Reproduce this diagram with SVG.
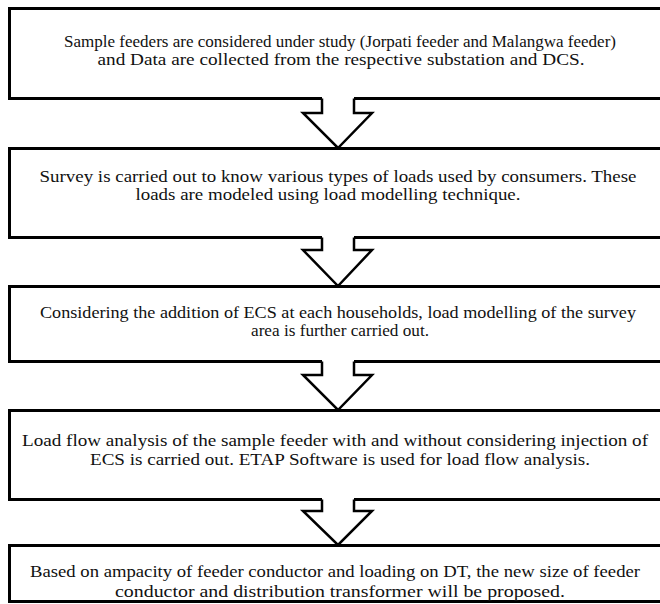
<svg xmlns="http://www.w3.org/2000/svg" width="660" height="604" viewBox="0 0 660 604">
<style>
.box{fill:#fff;stroke:#000;stroke-width:3}
.arr{fill:#fff;stroke:none}
.arrl{fill:none;stroke:#000;stroke-width:2.5;stroke-linejoin:miter}
text{font-family:"Liberation Serif","Times New Roman",serif;font-size:17px;fill:#111;text-anchor:middle}
</style>
<rect width="660" height="604" fill="#fff"/>
<g id="node1"><rect class="box" x="9.5" y="8.5" width="653" height="90"/>
<text x="340" y="47" textLength="552" lengthAdjust="spacingAndGlyphs">Sample feeders are considered under study (Jorpati feeder and Malangwa feeder)</text>
<text x="341" y="65" textLength="487" lengthAdjust="spacingAndGlyphs">and Data are collected from the respective substation and DCS.</text></g>
<g id="node2"><rect class="box" x="9.5" y="148.5" width="653" height="89"/>
<text x="338" y="182" textLength="597" lengthAdjust="spacingAndGlyphs">Survey is carried out to know various types of loads used by consumers. These</text>
<text x="328" y="200" textLength="385" lengthAdjust="spacingAndGlyphs">loads are modeled using load modelling technique.</text></g>
<g id="node3"><rect class="box" x="9.5" y="286.5" width="653" height="75"/>
<text x="338" y="318" textLength="596" lengthAdjust="spacingAndGlyphs">Considering the addition of ECS at each households, load modelling of the survey</text>
<text x="340" y="336" textLength="178" lengthAdjust="spacingAndGlyphs">area is further carried out.</text></g>
<g id="node4"><rect class="box" x="9.5" y="410.5" width="653" height="89"/>
<text x="335" y="446" textLength="626" lengthAdjust="spacingAndGlyphs">Load flow analysis of the sample feeder with and without considering injection of</text>
<text x="340" y="465" textLength="500" lengthAdjust="spacingAndGlyphs">ECS is carried out. ETAP Software is used for load flow analysis.</text></g>
<g id="node5"><rect class="box" x="9.5" y="545.5" width="653" height="56"/>
<text x="335" y="577" textLength="610" lengthAdjust="spacingAndGlyphs">Based on ampacity of feeder conductor and loading on DT, the new size of feeder</text>
<text x="340" y="597" textLength="450" lengthAdjust="spacingAndGlyphs">conductor and distribution transformer will be proposed.</text></g>
<g id="connectors">
<polygon class="arr" points="322,97 322,113 303,113 338,148 372,113 354,113 354,97"/>
<polyline class="arrl" points="322,98.5 322,113 303,113 338,148 372,113 354,113 354,98.5"/>
<polygon class="arr" points="322,235 322,250 303,250 338,286 372,250 354,250 354,235"/>
<polyline class="arrl" points="322,237.5 322,250 303,250 338,286 372,250 354,250 354,237.5"/>
<polygon class="arr" points="322,359 322,375 303,375 338,410 372,375 354,375 354,359"/>
<polyline class="arrl" points="322,361.5 322,375 303,375 338,410 372,375 354,375 354,361.5"/>
<polygon class="arr" points="322,497 322,511 303,511 338,545 372,511 354,511 354,497"/>
<polyline class="arrl" points="322,499.5 322,511 303,511 338,545 372,511 354,511 354,499.5"/>
</g>
</svg>
